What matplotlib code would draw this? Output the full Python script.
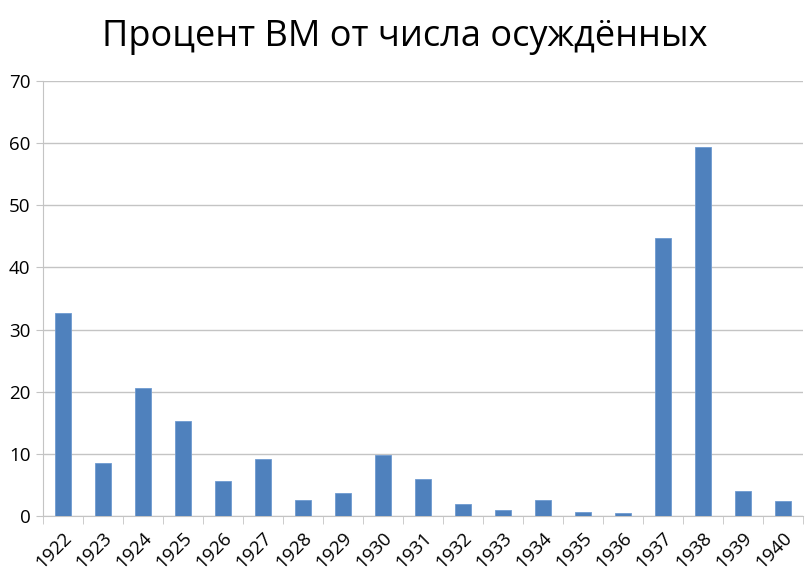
import numpy as np
import matplotlib.pyplot as plt

years = ['1922', '1923', '1924', '1925', '1926', '1927', '1928', '1929', '1930', '1931',
         '1932', '1933', '1934', '1935', '1936', '1937', '1938', '1939', '1940']
percent = [32.7, 8.6, 20.6, 15.3, 5.6, 9.1, 2.6, 3.7, 9.8, 6.0,
           1.9, 0.9, 2.6, 0.6, 0.5, 44.7, 59.3, 4.1, 2.4]

plt.rcParams['font.family'] = ['Open Sans', 'DejaVu Sans']

fig = plt.figure(figsize=(8.09, 5.81), dpi=100)
ax = fig.add_axes([43/809, 65/581, 760/809, 435/581])

x = np.arange(len(years))
ax.bar(x, percent, width=0.4, color='#4F81BD', edgecolor='#6F9BD1', linewidth=0.6, zorder=3)

ax.set_xlim(-0.5, len(years) - 0.5)
ax.set_ylim(0, 70)
ax.set_yticks(range(0, 71, 10))
ax.grid(axis='y', color='#C4C4C4', linewidth=1.0, zorder=0)

ax.set_xticks(x)
ax.set_xticklabels(years, rotation=45, ha='right', rotation_mode='anchor', fontsize=13.5)
ax.set_xticks(np.arange(-0.5, len(years)), minor=True)
ax.tick_params(axis='x', which='major', length=0, pad=9)
ax.tick_params(axis='x', which='minor', length=6, color='#C4C4C4')
ax.tick_params(axis='y', length=5, color='#C4C4C4', labelsize=13.5, pad=4)

for side in ['top', 'right']:
    ax.spines[side].set_visible(False)
for side in ['left', 'bottom']:
    ax.spines[side].set_color('#C4C4C4')

fig.text(0.5, 0.937, 'Процент ВМ от числа осуждённых', ha='center', va='center', fontsize=26)

plt.savefig('out.png', dpi=100)
